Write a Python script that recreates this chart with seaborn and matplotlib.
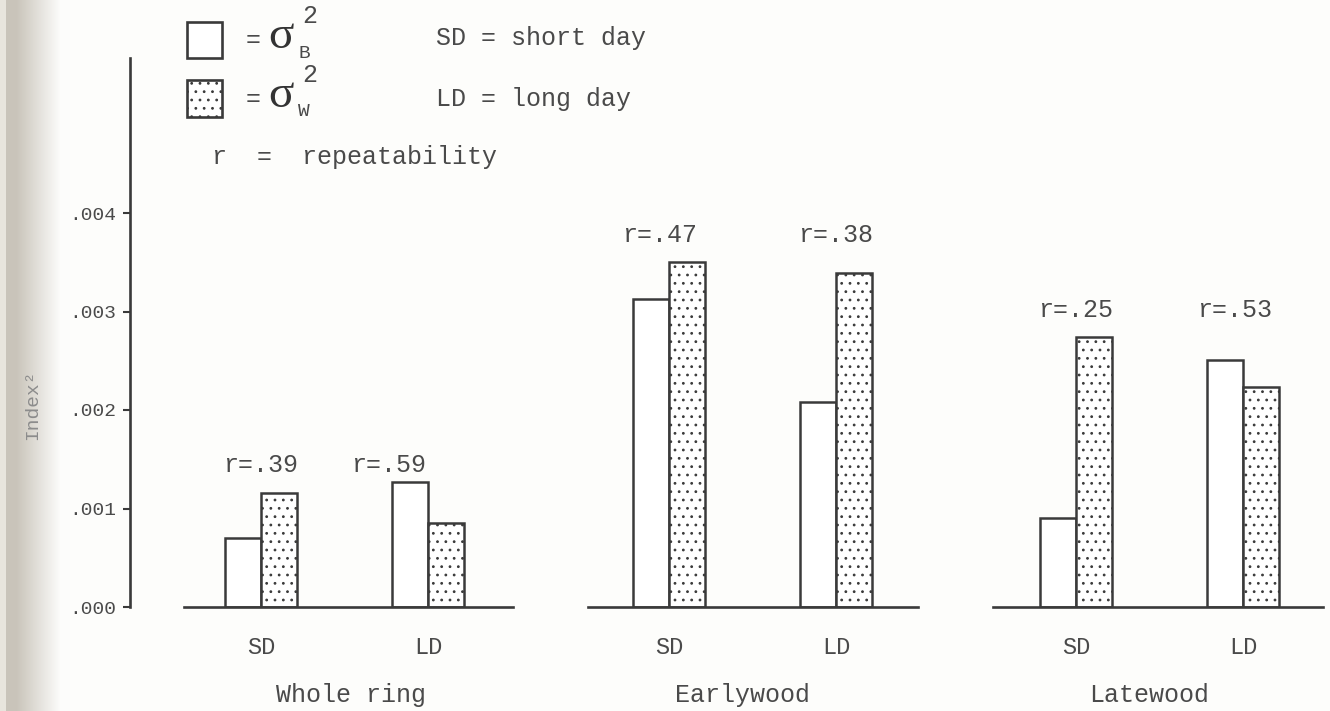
import numpy as np
import pandas as pd
import matplotlib
matplotlib.use("Agg")
import matplotlib.pyplot as plt
from matplotlib.patches import Rectangle
import seaborn as sns

# ---- data -------------------------------------------------------------
groups = ["Whole ring", "Earlywood", "Latewood"]
days = ["SD", "LD"]
components = ["between", "within"]

# variance components (Index^2) per group, short day / long day
sigma_b_sd = [0.00070, 0.00313, 0.00090]
sigma_b_ld = [0.00127, 0.00208, 0.00251]
sigma_w_sd = [0.00116, 0.00350, 0.00274]
sigma_w_ld = [0.00085, 0.00339, 0.00223]

# repeatability labels
repeat_sd = ["r=.39", "r=.47", "r=.25"]
repeat_ld = ["r=.59", "r=.38", "r=.53"]

y_ticks = [0.000, 0.001, 0.002, 0.003, 0.004]
y_tick_labels = [".000", ".001", ".002", ".003", ".004"]

# ---- layout helpers (pixel positions on a 1330x711 canvas) ------------
W, H = 1330, 711
PX_PER_UNIT = 167.0          # one category step in pixels
Y0, YTOP = 607, 58           # baseline and top of the value axis
PX_PER_VAL = 98.5 / 0.001

def fx(x):
    return x / W

def fy(y):
    return 1 - y / H

INK = "#3a3a3a"
TEXT = "#4a4a4a"
FONT = "Liberation Mono"
FS = 18
plt.rcParams["font.family"] = [FONT, "DejaVu Sans Mono"]
plt.rcParams["hatch.linewidth"] = 0.8
plt.rcParams["hatch.color"] = "#5a5a5a"

fig = plt.figure(figsize=(W / 100, H / 100), dpi=100)
fig.patch.set_facecolor("#fdfdfb")

# shadow along the bound edge of the page
edge = fig.add_axes([0, 0, 70 / W, 1], zorder=-5)
shade = np.ones((1, 70, 3))
base = np.array([0.99, 0.99, 0.985])
dark = np.array([0.79, 0.77, 0.73])
for i in range(70):
    if i < 6:
        c = np.array([0.91, 0.90, 0.87])
    elif i < 16:
        c = dark
    else:
        t = min(1.0, (i - 16) / 44.0)
        c = dark * (1 - t) + base * t
    shade[0, i] = c
edge.imshow(shade, aspect="auto", extent=[0, 1, 0, 1])
edge.axis("off")

ymax = (Y0 - YTOP) / PX_PER_VAL
axes_px = [  # (left px, right px, baseline start px, SD centre px)
    (130, 513, 184, 261),
    (588, 918, 588, 669),
    (993, 1323, 993, 1076),
]

label_dy = [17, 27, 27]        # r label height above the tallest bar, px
label_dx = [(0, -39), (-9, 0), (0, -8)]
group_dx = [6, -10, -10]       # group caption shift from the pair centre, px

for gi, (left, right, base_start, c0) in enumerate(axes_px):
    ax = fig.add_axes([fx(left), fy(Y0), (right - left) / W, (Y0 - YTOP) / H])
    ax.set_facecolor("none")
    df = pd.DataFrame({
        "day": days * 2,
        "component": ["between", "between", "within", "within"],
        "value": [sigma_b_sd[gi], sigma_b_ld[gi], sigma_w_sd[gi], sigma_w_ld[gi]],
    })
    sns.barplot(data=df, x="day", y="value", hue="component", order=days,
                hue_order=components, palette=["white", "white"], saturation=1,
                width=0.43, edgecolor=INK, linewidth=1.8, errorbar=None,
                legend=False, ax=ax)
    for bar in ax.containers[1]:
        bar.set_hatch("..")

    xl = -(c0 - left) / PX_PER_UNIT
    xr = (right - c0) / PX_PER_UNIT
    ax.set_xlim(xl, xr)
    ax.set_ylim(0, ymax)

    for s in ["top", "right"]:
        ax.spines[s].set_visible(False)
    ax.spines["bottom"].set_color(INK)
    ax.spines["bottom"].set_linewidth(1.9)
    ax.spines["bottom"].set_bounds(-(c0 - base_start) / PX_PER_UNIT, xr)

    ax.tick_params(axis="x", length=0, pad=21, labelsize=FS - 1, labelcolor=TEXT)
    ax.set_xticks([0, 1])
    ax.set_xticklabels(days, fontfamily=FONT)
    ax.set_xlabel("")
    ax.set_ylabel("")

    # group caption, centred under the pair of categories
    ax.annotate(groups[gi], xy=(0.5, 0), xycoords=ax.get_xaxis_transform(),
                xytext=(group_dx[gi] * 0.72, -(695 - Y0) * 0.72),
                textcoords="offset points", ha="center", va="center",
                fontsize=FS, color=TEXT, fontfamily=FONT, annotation_clip=False)

    if gi == 0:
        ax.spines["left"].set_color(INK)
        ax.spines["left"].set_linewidth(1.9)
        ax.set_yticks(y_ticks)
        ax.set_yticklabels(y_tick_labels, fontfamily=FONT)
        ax.tick_params(axis="y", direction="out", length=5, width=1.5, color=INK,
                       pad=5, labelsize=14, labelcolor=TEXT)
    else:
        ax.spines["left"].set_visible(False)
        ax.set_yticks([])

    top = max(sigma_b_sd[gi], sigma_b_ld[gi], sigma_w_sd[gi], sigma_w_ld[gi])
    for ci, txt in enumerate([repeat_sd[gi], repeat_ld[gi]]):
        ax.annotate(txt, xy=(ci, top), xytext=(label_dx[gi][ci] * 0.72, label_dy[gi] * 0.72),
                    textcoords="offset points", ha="center", va="center",
                    fontsize=FS, color=TEXT, fontfamily=FONT)

# y axis title
fig.text(fx(33), fy(405), "Index²", rotation=90, ha="center", va="center",
         fontsize=14, color="#8c8c8c", fontfamily=FONT)

# key
box_kw = dict(transform=fig.transFigure, edgecolor=INK, linewidth=1.9,
              facecolor="white")
fig.add_artist(Rectangle((fx(187), fy(58)), 35 / W, 36 / H, **box_kw))
fig.add_artist(Rectangle((fx(187), fy(117)), 35 / W, 37 / H, hatch="..", **box_kw))

def key_sigma(y, sub):
    fig.text(fx(253), fy(y), "=", fontsize=FS, color=TEXT, ha="center", va="center")
    fig.text(fx(281), fy(y - 3), "σ", fontsize=34, color="#333333", ha="center", va="center",
             fontfamily=["Liberation Serif"])
    fig.text(fx(304), fy(y + 13), sub, fontsize=14, color=TEXT, ha="center", va="center")
    fig.text(fx(310), fy(y - 24), "2", fontsize=FS, color=TEXT, ha="center", va="center")

key_sigma(40, "B")
key_sigma(99, "W")
fig.text(fx(436), fy(38), "SD = short day", fontsize=FS, color=TEXT, va="center")
fig.text(fx(436), fy(99), "LD = long day", fontsize=FS, color=TEXT, va="center")
fig.text(fx(212), fy(157), "r  =  repeatability", fontsize=FS, color=TEXT, va="center")

fig.savefig("out.png", dpi=100, facecolor=fig.get_facecolor())
